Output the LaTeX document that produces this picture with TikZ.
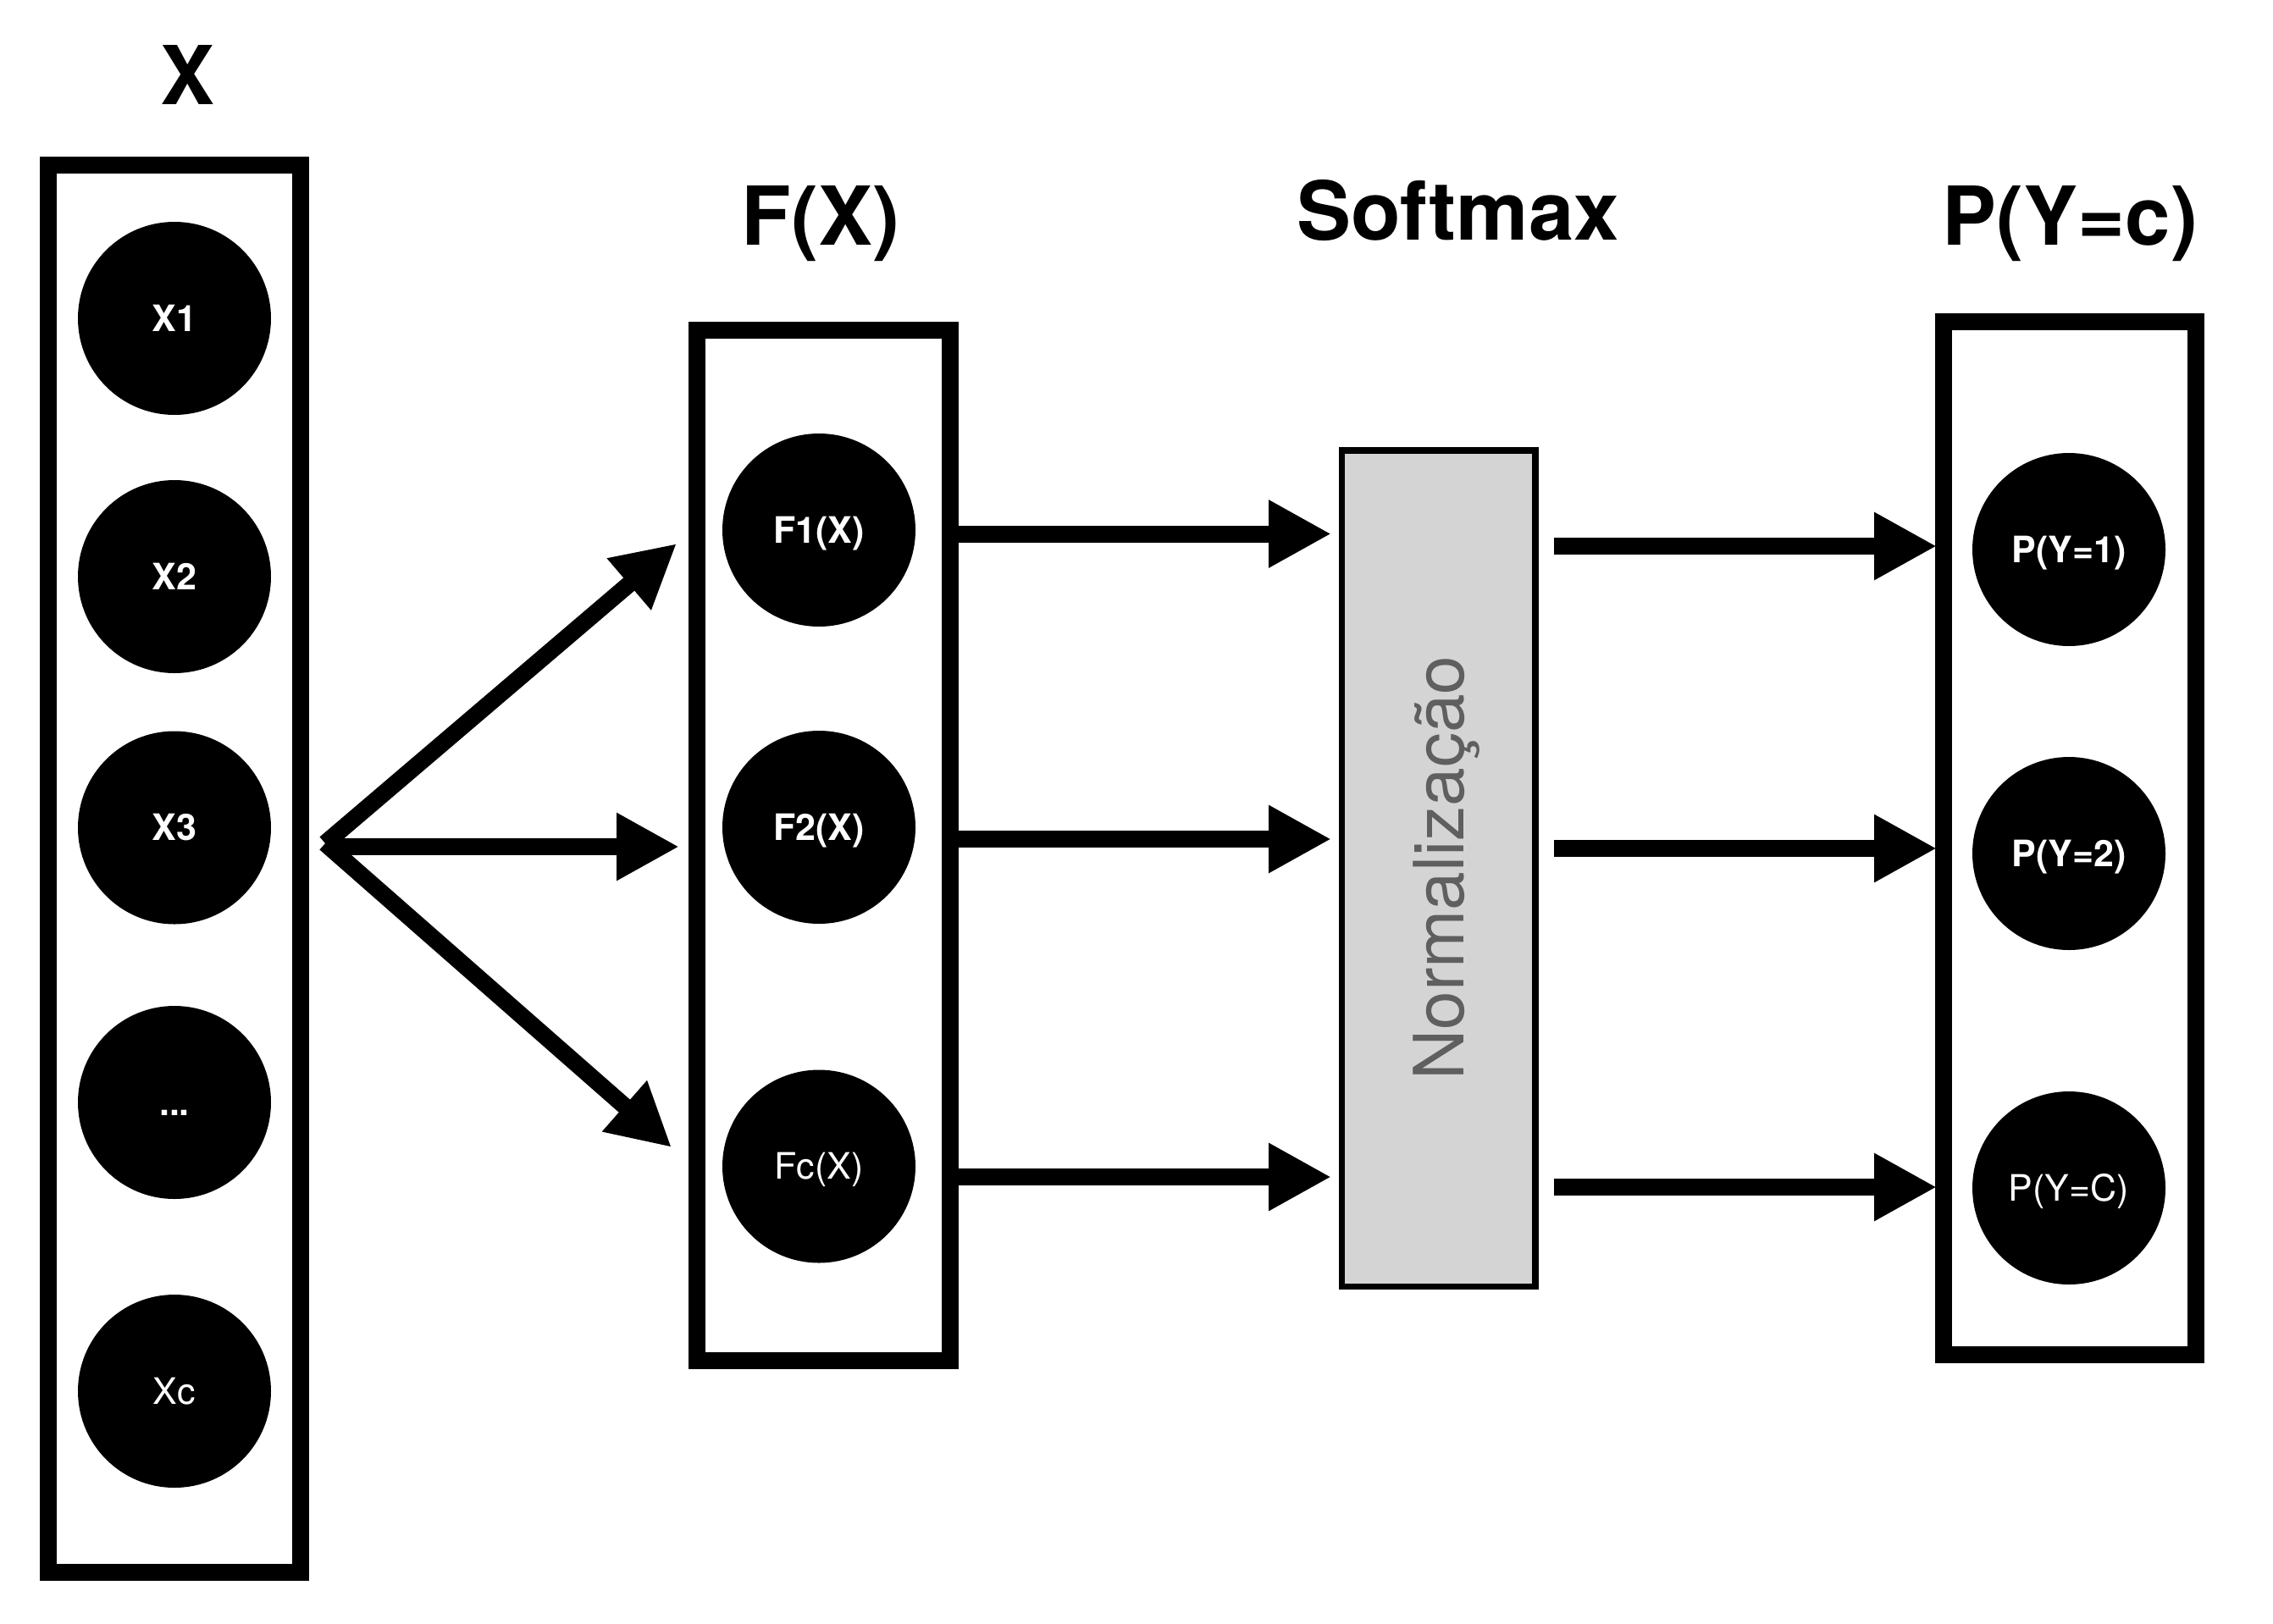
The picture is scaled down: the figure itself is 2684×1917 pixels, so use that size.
\documentclass[tikz,border=0pt]{standalone}
\usepackage{fontspec}
\setmainfont{TeX Gyre Heros}
\usetikzlibrary{arrows.meta,calc}
\definecolor{normfill}{RGB}{212,212,212}
\definecolor{normtext}{RGB}{95,95,95}
\begin{document}
\begin{tikzpicture}[x=0.25pt,y=-0.25pt,
  box/.style={draw=black,line width=5pt,fill=white,inner sep=0pt,outer sep=0pt},
  unit/.style={circle,fill=black,inner sep=0pt,outer sep=0pt,minimum size=57pt,text=white,
    font=\fontsize{10.75}{12}\selectfont,text height=7.7pt,text depth=0pt},
  unitb/.style={unit,font=\fontsize{10.75}{12}\selectfont\bfseries},
  title/.style={anchor=base,inner sep=0pt,font=\fontsize{24}{28}\selectfont\bfseries},
  arr/.style={line width=5pt,-{Triangle[length=18.5pt,width=18.75pt]}},
  normbox/.style={draw=black,line width=1.875pt,fill=normfill,inner sep=0pt,outer sep=0pt},
  normlabel/.style={rotate=90,text=normtext,font=\fontsize{20.5}{24}\selectfont,
    text height=14.7pt,text depth=0pt,inner sep=0pt}
]
\useasboundingbox (0,0) rectangle (2684,1917);
\fill[white] (0,0) rectangle (2684,1917);

% boxes
\node[box,minimum width=74.625pt,minimum height=415.5pt] (xbox) at (205.75,1026) {};
\node[box,minimum width=74.75pt,minimum height=304.25pt] (fbox) at (972.5,998.5) {};
\node[normbox,minimum width=57.125pt,minimum height=246.875pt] (norm) at (1698.75,1025.75) {};
\node[normlabel] (normlbl) at (1699.5,1025) {Normalização};
\node[box,minimum width=74.5pt,minimum height=305pt] (pbox) at (2444,990) {};

% titles
\node[title] (tx) at (222,123) {X};
\node[title] (tf) at (969,289) {F(X)};
\node[title] (ts) at (1721.5,283) {Softmax};
\node[title] (tp) at (2444.5,289) {P(Y=c)};

% input units
\node[unitb] (x1) at (206,376) {X1};
\node[unitb] (x2) at (206,681) {X2};
\node[unitb] (x3) at (206,977.5) {X3};
\node[unitb] (x4) at (206,1302) {...};
\node[unit]  (xc) at (206,1643) {Xc};

% F units
\node[unitb] (f1) at (967,626) {F1(X)};
\node[unitb] (f2) at (967,977) {F2(X)};
\node[unit]  (fc) at (967,1377.5) {Fc(X)};

% P units
\node[unitb] (p1) at (2443,649) {P(Y=1)};
\node[unitb] (p2) at (2443,1008) {P(Y=2)};
\node[unit]  (pc) at (2443,1403) {P(Y=C)};

% connector end points
\coordinate (src) at (384,996);
\coordinate (srcm) at (386,1000);
\coordinate (t1) at (799,642);
\coordinate (t2) at (802,1000);
\coordinate (t3) at (793,1355);
\coordinate (n1) at (1572,630.5);
\coordinate (n2) at (1572,991);
\coordinate (n3) at (1572,1390);
\coordinate (q1) at (2287,645);
\coordinate (q2) at (2287,1002);
\coordinate (q3) at (2287,1402);

% X -> F
\draw[arr] (src) -- (t1);
\draw[arr] (srcm) -- (t2);
\draw[arr] (src) -- (t3);

% F -> Normalizacao
\draw[arr] (fbox.east |- n1) -- (n1);
\draw[arr] (fbox.east |- n2) -- (n2);
\draw[arr] (fbox.east |- n3) -- (n3);

% Normalizacao -> P
\draw[arr,shorten <=5.5pt] (norm.east |- q1) -- (q1);
\draw[arr,shorten <=5.5pt] (norm.east |- q2) -- (q2);
\draw[arr,shorten <=5.5pt] (norm.east |- q3) -- (q3);
\end{tikzpicture}
\end{document}
